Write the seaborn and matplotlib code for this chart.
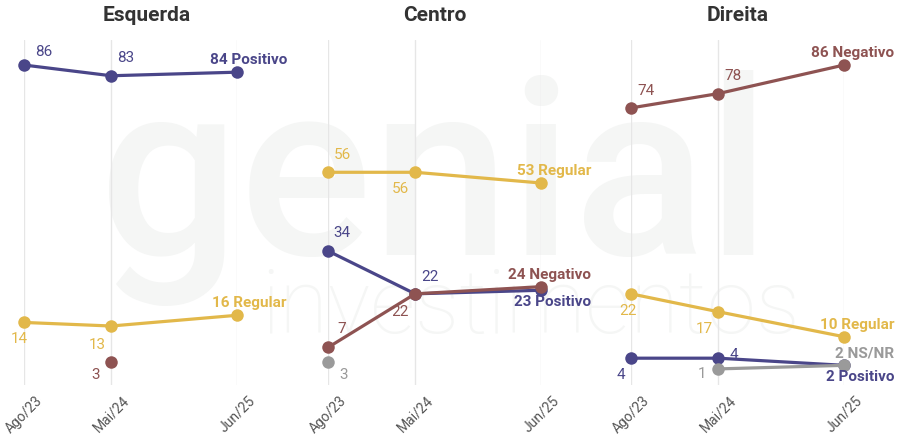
import matplotlib
matplotlib.use('Agg')
import matplotlib.pyplot as plt
import seaborn as sns
import pandas as pd

# Data
periodos = ['Ago/23', 'Mai/24', 'Jun/25']
meses = [0, 9, 22]  # months since Ago/23
paineis = ['Esquerda', 'Centro', 'Direita']
series = ['Positivo', 'Regular', 'Negativo', 'NS/NR']

esquerda_positivo = [86, 83, 84]
esquerda_regular = [14, 13, 16]
esquerda_negativo = [None, 3, None]
esquerda_nsnr = [None, None, None]

centro_positivo = [34, 22, 23]
centro_regular = [56, 56, 53]
centro_negativo = [7, 22, 24]
centro_nsnr = [3, None, None]

direita_positivo = [4, 4, 2]
direita_regular = [22, 17, 10]
direita_negativo = [74, 78, 86]
direita_nsnr = [None, 1, 2]

valores = {
    'Esquerda': [esquerda_positivo, esquerda_regular, esquerda_negativo, esquerda_nsnr],
    'Centro': [centro_positivo, centro_regular, centro_negativo, centro_nsnr],
    'Direita': [direita_positivo, direita_regular, direita_negativo, direita_nsnr],
}

cores = {'Positivo': '#4a4689', 'Regular': '#e2b84a', 'Negativo': '#8e5352', 'NS/NR': '#9a9a9a'}

# label offsets in pixels (dx, dy) for the non-final points
offsets = {
    ('Esquerda', 'Positivo', 0): (20, 13), ('Esquerda', 'Positivo', 1): (15, 18),
    ('Esquerda', 'Regular', 0): (-5, -17), ('Esquerda', 'Regular', 1): (-14, -19),
    ('Esquerda', 'Negativo', 1): (-16, -13),
    ('Centro', 'Regular', 0): (14, 17), ('Centro', 'Regular', 1): (-15, -17),
    ('Centro', 'Positivo', 0): (14, 18), ('Centro', 'Positivo', 1): (15, 17),
    ('Centro', 'Negativo', 0): (14, 18), ('Centro', 'Negativo', 1): (-15, -18),
    ('Centro', 'NS/NR', 0): (16, -13),
    ('Direita', 'Negativo', 0): (15, 17), ('Direita', 'Negativo', 1): (15, 18),
    ('Direita', 'Regular', 0): (-3, -17), ('Direita', 'Regular', 1): (-14, -17),
    ('Direita', 'Positivo', 0): (-10, -17), ('Direita', 'Positivo', 1): (16, 3),
    ('Direita', 'NS/NR', 1): (-16, -5),
}
# final label above (+) or below (-)
final_lado = {
    ('Esquerda', 'Positivo'): 1, ('Esquerda', 'Regular'): 1,
    ('Centro', 'Regular'): 1, ('Centro', 'Negativo'): 1, ('Centro', 'Positivo'): -1,
    ('Direita', 'Negativo'): 1, ('Direita', 'Regular'): 1, ('Direita', 'NS/NR'): 1,
    ('Direita', 'Positivo'): -1,
}
titulo_x = {'Esquerda': 0.577, 'Centro': 0.5, 'Direita': 0.5}

sns.set_theme(style='white')
plt.rcParams['font.family'] = ['Roboto', 'DejaVu Sans']

fig = plt.figure(figsize=(8.99, 4.36), dpi=100)
fig.patch.set_facecolor('white')

# watermark on a background axes
bg = fig.add_axes([0, 0, 1, 1], zorder=-10)
bg.set_axis_off()
bg.text(0.483, 0.415, 'genial', fontsize=178, fontweight='medium', color='#f5f6f5',
        ha='center', va='baseline', transform=bg.transAxes)
bg.text(0.59, 0.236, 'investimentos', fontsize=64, color='#f5f6f5', ha='center', va='baseline',
        fontweight='light', transform=bg.transAxes)

lefts = [24, 328, 631]
W, H = 899, 436
for painel, left in zip(paineis, lefts):
    ax = fig.add_axes([left / W, (H - 385) / H, 213 / W, 345 / H])
    ax.set_facecolor('none')
    rows = []
    for nome, vals in zip(series, valores[painel]):
        for m, v in zip(meses, vals):
            if v is not None:
                rows.append({'mes': m, 'valor': v, 'avaliacao': nome})
    df = pd.DataFrame(rows)
    ordem = [s for s in series if s in df['avaliacao'].values]
    sns.lineplot(data=df, x='mes', y='valor', hue='avaliacao', hue_order=ordem, palette=cores,
                 marker='o', markersize=9, markeredgewidth=0, linewidth=2.3, legend=False, ax=ax,
                 clip_on=False)

    for nome, vals in zip(series, valores[painel]):
        for i, (m, v) in enumerate(zip(meses, vals)):
            if v is None:
                continue
            if i == len(meses) - 1:
                lado = final_lado[(painel, nome)]
                ax.annotate(f'{v} {nome}', (m, v), xytext=(50, 12 * lado), textcoords='offset pixels',
                            ha='right', va='center', fontsize=11, fontweight='bold', color=cores[nome],
                            annotation_clip=False)
            else:
                dx, dy = offsets[(painel, nome, i)]
                ax.annotate(str(v), (m, v), xytext=(dx, dy), textcoords='offset pixels',
                            ha='center', va='center', fontsize=11, color=cores[nome],
                            annotation_clip=False)

    ax.set_xlim(0, 22)
    ax.set_ylim(-3.5, 93)
    ax.set_xticks(meses)
    ax.set_xticklabels(periodos, rotation=45, fontsize=10, color='#555555')
    ax.tick_params(axis='x', length=0, pad=6)
    ax.set_yticks([])
    ax.grid(axis='x', color='#e6e6e6', linewidth=1)
    ax.set_xlabel('')
    ax.set_ylabel('')
    sns.despine(ax=ax, left=True, bottom=True)
    ax.set_title(painel, fontsize=15, fontweight='bold', color='#333333', pad=14, x=titulo_x[painel])

fig.savefig('out.png', dpi=100)
